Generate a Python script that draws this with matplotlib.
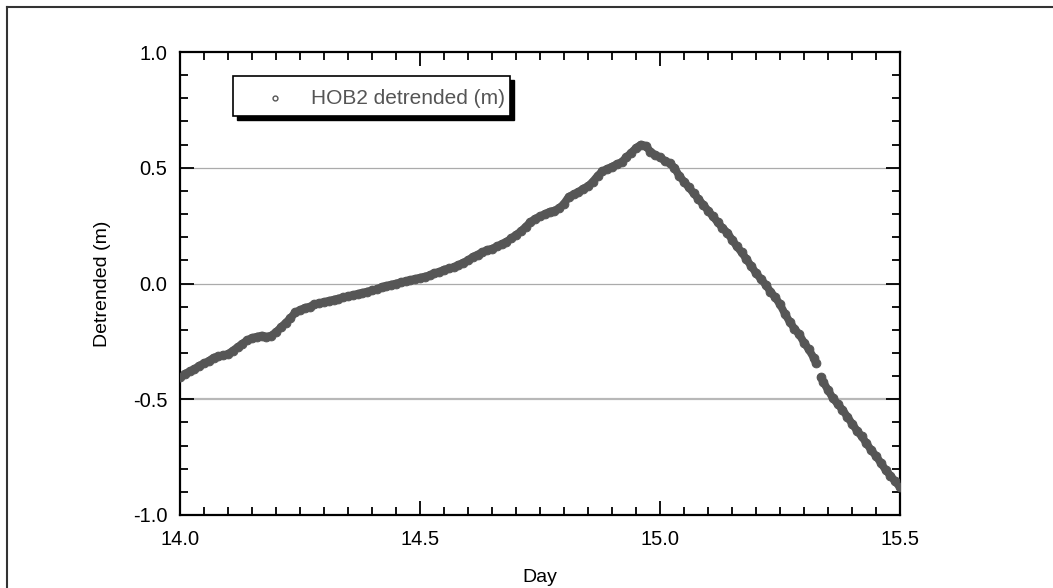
import matplotlib
matplotlib.use("Agg")
import matplotlib.pyplot as plt
from matplotlib.lines import Line2D
from matplotlib.patches import Rectangle
from matplotlib.ticker import MultipleLocator, FormatStrFormatter

plt.rcParams['font.family'] = ['Liberation Sans', 'DejaVu Sans']

day = [14.00, 14.01, 14.02, 14.03, 14.04, 14.05, 14.06, 14.07, 14.08, 14.09,
       14.10, 14.11, 14.12, 14.13, 14.14, 14.15, 14.16, 14.17, 14.18, 14.19,
       14.20, 14.21, 14.22, 14.23, 14.24, 14.25, 14.26, 14.27, 14.28, 14.29,
       14.30, 14.31, 14.32, 14.33, 14.34, 14.35, 14.36, 14.37, 14.38, 14.39,
       14.40, 14.41, 14.42, 14.43, 14.44, 14.45, 14.46, 14.47, 14.48, 14.49,
       14.50, 14.51, 14.52, 14.53, 14.54, 14.55, 14.56, 14.57, 14.58, 14.59,
       14.60, 14.61, 14.62, 14.63, 14.64, 14.65, 14.66, 14.67, 14.68, 14.69,
       14.70, 14.71, 14.72, 14.73, 14.74, 14.75, 14.76, 14.77, 14.78, 14.79,
       14.80, 14.81, 14.82, 14.83, 14.84, 14.85, 14.86, 14.87, 14.88, 14.89,
       14.90, 14.91, 14.92, 14.93, 14.94, 14.95, 14.96, 14.97, 14.98, 14.99,
       15.00, 15.01, 15.02, 15.03, 15.04, 15.05, 15.06, 15.07, 15.08, 15.09,
       15.10, 15.11, 15.12, 15.13, 15.14, 15.15, 15.16, 15.17, 15.18, 15.19,
       15.20, 15.21, 15.22, 15.23, 15.24, 15.25, 15.26, 15.27, 15.28, 15.29,
       15.30, 15.31, 15.32, 15.325, 15.335, 15.34, 15.35, 15.36, 15.37, 15.38,
       15.39, 15.40, 15.41, 15.42, 15.43, 15.44, 15.45, 15.46, 15.47, 15.48,
       15.49, 15.50]

detrended = [-0.405, -0.39, -0.38, -0.37, -0.355, -0.345, -0.335, -0.32, -0.315, -0.31,
             -0.305, -0.29, -0.275, -0.26, -0.245, -0.235, -0.23, -0.225, -0.23, -0.225,
             -0.21, -0.19, -0.17, -0.15, -0.125, -0.115, -0.105, -0.10, -0.09, -0.085,
             -0.08, -0.075, -0.07, -0.065, -0.06, -0.055, -0.05, -0.045, -0.04, -0.035,
             -0.03, -0.025, -0.015, -0.01, -0.005, 0.0, 0.005, 0.01, 0.015, 0.02,
             0.025, 0.03, 0.035, 0.045, 0.05, 0.06, 0.065, 0.07, 0.08, 0.09,
             0.10, 0.115, 0.125, 0.135, 0.145, 0.15, 0.16, 0.17, 0.18, 0.195,
             0.21, 0.225, 0.245, 0.265, 0.28, 0.29, 0.30, 0.31, 0.315, 0.325,
             0.345, 0.375, 0.385, 0.395, 0.41, 0.42, 0.44, 0.465, 0.485, 0.495,
             0.505, 0.515, 0.525, 0.545, 0.565, 0.585, 0.60, 0.595, 0.57, 0.555,
             0.545, 0.53, 0.52, 0.50, 0.465, 0.44, 0.415, 0.39, 0.365, 0.34,
             0.315, 0.29, 0.265, 0.24, 0.22, 0.19, 0.16, 0.135, 0.105, 0.075,
             0.045, 0.02, -0.005, -0.035, -0.06, -0.09, -0.13, -0.165, -0.195, -0.22,
             -0.255, -0.285, -0.32, -0.345, -0.405, -0.425, -0.46, -0.495, -0.52, -0.545,
             -0.575, -0.605, -0.635, -0.66, -0.69, -0.72, -0.745, -0.775, -0.805, -0.83,
             -0.855, -0.88]

grid_levels = [0.5, 0.0, -0.5]
legend_label = "HOB2 detrended (m)"

W, H = 1053, 588
fig = plt.figure(figsize=(W / 100, H / 100), dpi=100)
ax = fig.add_axes([180 / W, 1 - 515 / H, 720 / W, 463 / H])

# horizontal reference lines
for lvl in grid_levels:
    if lvl == -0.5:
        ax.axhline(lvl, color='#b8b8b8', lw=1.6, zorder=1)
    else:
        ax.axhline(lvl, color='#ababab', lw=0.9, zorder=1)

# split the record where the logger jumps (data gap), then draw a band + markers
split = [0]
for i in range(1, len(day)):
    if abs(detrended[i] - detrended[i - 1]) > 0.05:
        split.append(i)
split.append(len(day))
band_color = '#565656'
for a, b in zip(split[:-1], split[1:]):
    ax.plot(day[a:b], detrended[a:b], color=band_color, lw=5.6,
            solid_capstyle='round', solid_joinstyle='round', zorder=2)
ax.plot(day, detrended, linestyle='none', marker='o', markersize=6.4,
        markerfacecolor=band_color, markeredgecolor=band_color, markeredgewidth=0.6,
        zorder=3)

ax.set_xlim(14.0, 15.5)
ax.set_ylim(-1.0, 1.0)
ax.xaxis.set_major_locator(MultipleLocator(0.5))
ax.xaxis.set_minor_locator(MultipleLocator(0.05))
ax.yaxis.set_major_locator(MultipleLocator(0.5))
ax.yaxis.set_minor_locator(MultipleLocator(0.1))
ax.xaxis.set_major_formatter(FormatStrFormatter('%.1f'))
ax.yaxis.set_major_formatter(FormatStrFormatter('%.1f'))
ax.tick_params(which='both', direction='in', top=True, right=True,
               labelsize=14.5, colors='black', width=1.3)
ax.tick_params(which='major', length=10)
ax.tick_params(which='minor', length=6)
ax.tick_params(axis='x', which='major', pad=11)
ax.tick_params(axis='y', which='major', pad=9)
for s in ax.spines.values():
    s.set_linewidth(1.6)

ax.set_xlabel('Day', fontsize=14, labelpad=14.5)
ax.set_ylabel('Detrended (m)', fontsize=14, labelpad=16)

# legend box with hard shadow
bx, by, bw, bh = 233 / W, 1 - 116 / H, 277 / W, 40 / H
dx, dy = 4 / W, -4 / H
fig.patches.append(Rectangle((bx + dx, by + dy), bw, bh, transform=fig.transFigure,
                             facecolor='black', edgecolor='black', lw=1, zorder=5))
fig.patches.append(Rectangle((bx, by), bw, bh, transform=fig.transFigure,
                             facecolor='white', edgecolor='black', lw=1.2, zorder=6))
fig.lines.append(Line2D([275 / W], [1 - 98 / H], transform=fig.transFigure,
                        marker='o', markersize=3.5, markerfacecolor='none',
                        markeredgecolor='#555555', markeredgewidth=1.0,
                        linestyle='none', zorder=7))
fig.text(311 / W, 1 - 98 / H, legend_label, fontsize=15, color='#555555',
         va='center', ha='left', zorder=7)

# outer frame (left and top edges)
fig.lines.append(Line2D([7 / W, 7 / W], [0, 1 - 7 / H], transform=fig.transFigure,
                        color='#333333', lw=1.5))
fig.lines.append(Line2D([7 / W, 1], [1 - 7 / H, 1 - 7 / H], transform=fig.transFigure,
                        color='#333333', lw=1.5))

fig.savefig('out.png', dpi=100)
